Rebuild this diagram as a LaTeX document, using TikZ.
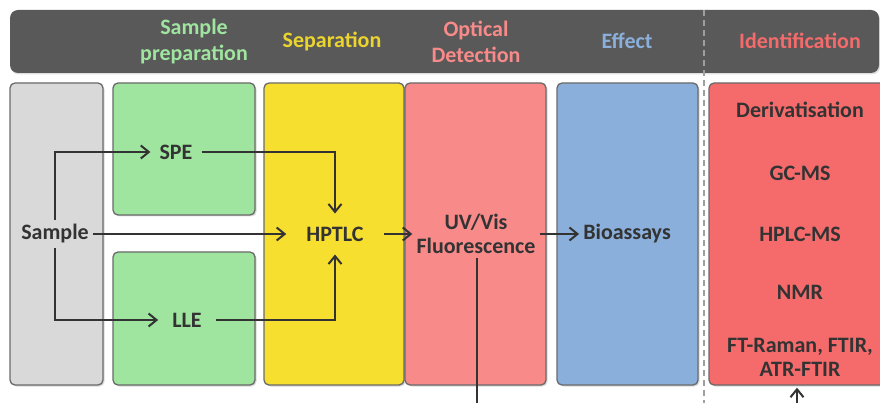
\documentclass[tikz,border=0pt]{standalone}
\usepackage{fontspec}
\setsansfont{Carlito}
\usepackage{xcolor}
\usetikzlibrary{arrows.meta,positioning,shadows}

\definecolor{headgray}{HTML}{595959}
\definecolor{boxline}{HTML}{6A6A6A}
\definecolor{inkgray}{HTML}{333333}
\definecolor{samplefill}{HTML}{D9D9D9}
\definecolor{prepfill}{HTML}{9FE59F}
\definecolor{sepfill}{HTML}{F7DF2F}
\definecolor{detfill}{HTML}{F98A8A}
\definecolor{efffill}{HTML}{8AAFDA}
\definecolor{idfill}{HTML}{F56B6B}

\begin{document}
\begin{tikzpicture}[x=1pt,y=-1pt,
  font=\sffamily\bfseries\fontsize{22}{24}\selectfont,
  panel/.style={draw=boxline,line width=1.3pt,rounded corners=5pt,inner sep=0pt,minimum width=141pt,minimum height=302pt,
    drop shadow={shadow xshift=1.5pt,shadow yshift=-1.5pt,opacity=0.3}},
  head/.style={align=center,font=\sffamily\bfseries\fontsize{22}{26}\selectfont},
  item/.style={text=inkgray,align=center,inner sep=4pt},
  arr/.style={-{Straight Barb[length=8pt,width=13pt,line width=2pt]},line width=2pt,inkgray},
  line/.style={line width=2pt,inkgray}
]
\useasboundingbox (0,0) rectangle (880,403);

% Header bar
\node[fill=headgray,rounded corners=8pt,minimum width=869pt,minimum height=63pt,inner sep=0pt,
  drop shadow={shadow xshift=1pt,shadow yshift=-1.5pt,opacity=0.25}] (headbar) at (444.5,41.5) {};
\node[head,text=prepfill] (hprep) at (194,42) {Sample\\preparation};
\node[head,text=sepfill!95!black] (hsep) at (332,41) {Separation};
\node[head,text=detfill] (hdet) at (476,42) {Optical\\Detection};
\node[head,text=efffill] (heff) at (627,41) {Effect};
\node[head,text=idfill] (hid) at (800,41) {Identification};

% Columns
\node[panel,fill=samplefill,minimum width=93pt] (samplebox) at (56.5,234) {};
\node[panel,fill=prepfill,minimum width=142pt,minimum height=132pt] (spebox) at (184,149) {};
\node[panel,fill=prepfill,minimum width=142pt,minimum height=133pt] (llebox) at (184,318.5) {};
\node[panel,fill=sepfill,minimum width=140pt] (sepbox) at (334,234) {};
\node[panel,fill=detfill] (detbox) at (475.5,234) {};
\node[panel,fill=efffill] (effbox) at (627.5,234) {};
\node[panel,fill=idfill,minimum width=185pt] (idbox) at (801.5,234) {};

% Divider between effect and identification
\coordinate (divtop) at (704,10);
\coordinate (divbot) at (704,405);
\draw[gray!75,line width=1.3pt,dash pattern=on 6pt off 4pt] (divtop) -- (divbot);

% Steps
\node[item] (sample) at (55,234) {Sample};
\node[item,inner xsep=9pt] (spe) at (176,152) {SPE};
\node[item,inner xsep=14pt] (lle) at (187,320) {LLE};
\node[item,inner xsep=20pt,inner ysep=13pt] (hptlc) at (335,234) {HPTLC};
\node[item] (uvvis) at (476,234) {UV/Vis\\Fluorescence};
\node[item] (bio) at (627,234) {Bioassays};

\node[item] (deriv) at (800,110) {Derivatisation};
\node[item] (gcms) at (800,173) {GC-MS};
\node[item] (hplcms) at (800,234) {HPLC-MS};
\node[item] (nmr) at (800,292) {NMR};
\node[item] (ftir) at (800,357) {FT-Raman, FTIR,\\ATR-FTIR};

\coordinate (detout) at (477,410);
\coordinate (idin) at (797,410);

% Arrows
\draw[arr] (sample.north) |- (spe.west);
\draw[arr] (sample.south) |- (lle.west);
\draw[arr] (sample.east) -- (hptlc.west);
\draw[arr] (spe.east) -| (hptlc.north);
\draw[arr] (lle.east) -| (hptlc.south);
\draw[arr] (hptlc.east) -- (uvvis.west);
\draw[arr] (uvvis.east) -- (bio.west);
\draw[line] (uvvis.south -| detout) -- (detout);
\draw[arr,shorten >=2pt] (idin) -- (idin |- idbox.south);

\end{tikzpicture}
\end{document}
